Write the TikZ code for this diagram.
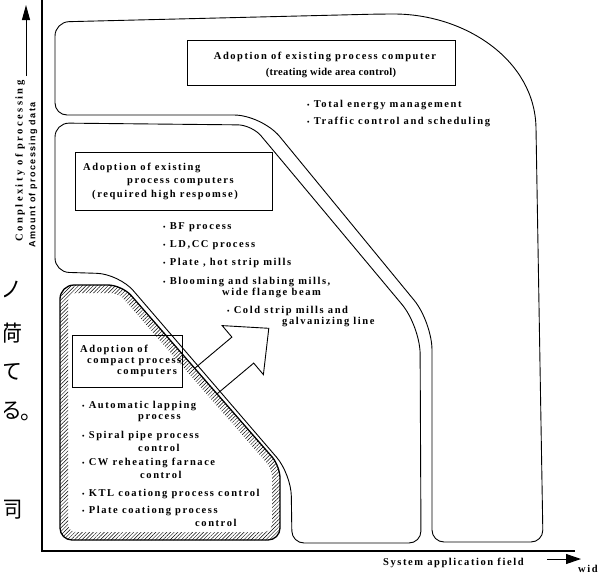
\documentclass[tikz,border=0pt]{standalone}
\usepackage{fontspec}
\setmainfont{Liberation Serif}
\newfontfamily\lsf[LetterSpace=15]{Liberation Serif}
\newfontfamily\lsfn[LetterSpace=3]{Liberation Serif}
\newfontfamily\lsfw[LetterSpace=23]{Liberation Serif}
\newfontfamily\lss[LetterSpace=15]{Liberation Sans}
\newfontfamily\jpf{Noto Sans CJK JP}
\newcommand{\bul}{{\fontsize{7}{7}\selectfont\textbullet}\ }
\usetikzlibrary{patterns.meta,arrows.meta}
\begin{document}
\begin{tikzpicture}[x=1pt,y=-1pt,
  region/.style={draw, line width=0.9pt},
  box/.style={draw, line width=0.8pt, rectangle, inner sep=0pt},
  lab/.style={font=\lsf\bfseries\fontsize{10.5}{12}\selectfont, inner sep=0pt, anchor=west},
  labc/.style={font=\lsf\bfseries\fontsize{10.5}{12}\selectfont, inner sep=0pt, anchor=center},
  jp/.style={font=\jpf\fontsize{22}{22}\selectfont, inner sep=0pt, anchor=center},
  axis/.style={line width=1.1pt},
]
\useasboundingbox (0,0) rectangle (611,574);

% axes
\coordinate (ytop) at (42,0);
\coordinate (orig) at (42,551);
\coordinate (xend) at (575,551);
\draw[axis] (ytop) -- (orig) -- (xend);
\coordinate (ya) at (26,76);
\coordinate (yb) at (26,5);
\draw[line width=1pt,-{Triangle[length=15pt,width=8pt]}] (ya) -- (yb);
\coordinate (xa) at (547,559);
\coordinate (xb) at (581,559);
\draw[line width=1pt,-{Triangle[length=15pt,width=10pt]}] (xa) -- (xb);

\node[font=\lsfw\bfseries\fontsize{10.5}{12}\selectfont, rotate=90, inner sep=0pt] (ylab1) at (20,161) {Conplexity of processing};
\node[font=\lss\bfseries\fontsize{9}{11}\selectfont, rotate=90, inner sep=0pt] (ylab2) at (33,175) {Amount of processing data};
\node[lab] (xlab) at (383,563) {System application field};
\node[lab] (wid) at (578,569) {wid};

% clipped Japanese characters at the left edge
\begin{scope}
\clip (4,270) rectangle (40,574);
\node[jp] (j1) at (12,289) {ノ};
\node[jp] (j2) at (12,333) {荷};
\node[jp] (j3) at (12,372) {て};
\node[jp] (j4) at (11,411) {る};
\node[jp] (j5) at (31,417) {。};
\node[jp] (j6) at (12,510) {同};
\end{scope}

% region 1 (wide area)
\draw[region] (55,60) [rounded corners=14pt] -- (55,22) -- (380,14) [sharp corners]
  .. controls (465,14) and (535,60) .. (536,128)
  [rounded corners=12pt] -- (543,542) -- (432,542)
  [rounded corners=28pt] -- (432,322) -- (262,115)
  [rounded corners=12pt] -- (55,115) -- cycle;

% region 2
\draw[region] (55,200) [rounded corners=14pt] -- (55,123) -- (252,125)
  [rounded corners=28pt] -- (420,326)
  [rounded corners=12pt] -- (421,543) -- (292,543)
  [rounded corners=22pt] -- (291,474) -- (119,274)
  [rounded corners=14pt] -- (55,272) -- cycle;

% region 3 (hatched)
\fill[pattern={Lines[angle=45,distance=2.6pt,line width=0.45pt]}, even odd rule]
  (60,420) [rounded corners=14pt] -- (60,285) -- (122,285) [rounded corners=12pt] -- (280,466) -- (280,540) -- (60,540) -- cycle
  (68,420) [rounded corners=8pt] -- (68,293) -- (118.4,293) [rounded corners=8pt] -- (272,469) -- (272,532) -- (68,532) -- cycle;
\draw[line width=1.3pt] (60,420) [rounded corners=14pt] -- (60,285) -- (122,285) [rounded corners=12pt] -- (280,466) -- (280,540) -- (60,540) -- cycle;

% big hollow arrow (outward from the compact region)
\coordinate (ar1) at (195.1,368);
\coordinate (ar2) at (231.9,337.1);
\coordinate (ar3) at (222.2,325.6);
\coordinate (ar4) at (268.8,328.3);
\coordinate (ar5) at (263.4,374.6);
\coordinate (ar6) at (253.7,363.1);
\coordinate (ar7) at (216.9,394);
\draw[line width=0.9pt, line join=miter] (ar1) -- (ar2) -- (ar3) -- (ar4) -- (ar5) -- (ar6) -- (ar7);

% boxes
\node[box, minimum width=268pt, minimum height=45pt] (boxA) at (321,62.5) {};
\node[labc] (a1) at (325,57) {Adoption of existing process computer};
\node[labc, font=\lsfn\bfseries\fontsize{10.5}{12}\selectfont] (a2) at (331,73) {(treating wide area control)};

\node[box, minimum width=197pt, minimum height=58pt] (boxB) at (173.5,181) {};
\node[lab] (b1) at (83,168) {Adoption of existing};
\node[lab] (b2) at (127,182) {process computers};
\node[lab] (b3) at (92,195) {(required high respomse)};

\node[box, minimum width=110pt, minimum height=52pt] (boxC) at (127,361) {};
\node[lab] (c1) at (80,350) {Adoption of};
\node[lab] (c2) at (87,362) {compact process};
\node[lab] (c3) at (117,373) {computers};

% region 1 items
\node[lab] (r1a) at (307,105) {\bul Total energy management};
\node[lab] (r1b) at (307,122) {\bul Traffic control and scheduling};

% region 2 items
\node[lab] (r2a) at (163,227) {\bul BF process};
\node[lab] (r2b) at (163,245) {\bul LD,CC process};
\node[lab] (r2c) at (163,263) {\bul Plate , hot strip mills};
\node[lab] (r2d) at (163,282) {\bul Blooming and slabing mills,};
\node[lab] (r2e) at (222,293) {wide flange beam};
\node[lab] (r2f) at (227,311) {\bul Cold strip mills and};
\node[lab] (r2g) at (282,322) {galvanizing line};

% region 3 items
\node[lab] (r3a) at (82,406) {\bul Automatic lapping};
\node[lab] (r3b) at (138,418) {process};
\node[lab] (r3c) at (82,436) {\bul Spiral pipe process};
\node[lab] (r3d) at (138,448) {control};
\node[lab] (r3e) at (82,463) {\bul CW reheating farnace};
\node[lab] (r3f) at (140,475) {control};
\node[lab] (r3g) at (82,494) {\bul KTL coationg process control};
\node[lab] (r3h) at (82,511) {\bul Plate coationg process};
\node[lab] (r3i) at (195,523) {control};
\end{tikzpicture}
\end{document}
